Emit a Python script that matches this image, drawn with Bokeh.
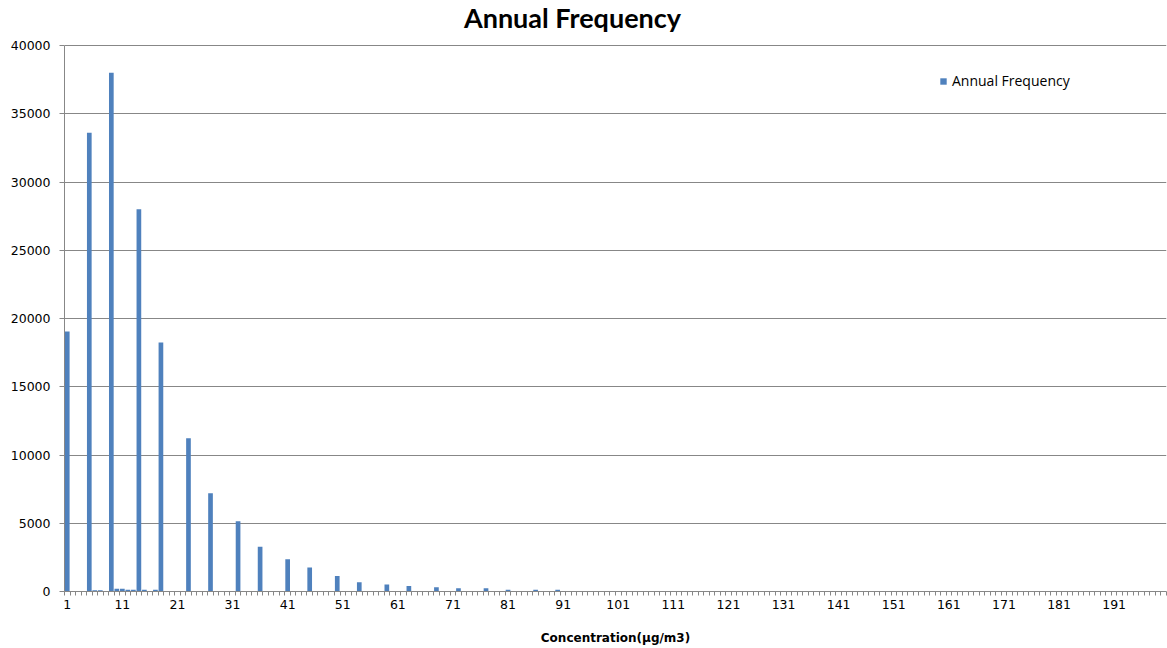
from bokeh.plotting import figure
from bokeh.models import ColumnDataSource, FixedTicker, Range1d, Label, Legend, LegendItem
from bokeh.embed import file_html
from bokeh.resources import INLINE

# Concentration bins (µg/m3) shown on the category axis
categories = list(range(1, 201))

# Bins that received any counts, with their annual counts
bins = [1, 5, 6, 7, 9, 10, 11, 12, 13, 14, 15, 17, 18, 23, 27, 32, 36, 41, 45,
        50, 54, 59, 63, 68, 72, 77, 81, 86, 90]
counts = [19040, 33600, 100, 100, 38000, 200, 200, 120, 120, 28000, 120, 120,
          18240, 11230, 7200, 5150, 3270, 2370, 1760, 1130, 670, 520, 400, 320,
          230, 230, 120, 120, 120]

tick_labels = [str(c) for c in range(1, 201, 10)]
y_ticks = list(range(0, 40001, 5000))

lookup = dict(zip(bins, counts))
frequency = [lookup.get(c, 0) for c in categories]

source = ColumnDataSource(data=dict(x=categories, top=frequency))

GRID = "#878787"
BLUE = "#4F81BD"

# Canvas layout (pixels): the plotting frame runs from the top edge down to
# the x axis; the value axis itself covers 0..40000 over its lower part,
# leaving a band above it for the heading and legend.
W, H = 1167, 648
BOTTOM_BORDER = 57
AXIS_TOP_PX = 45
frame_h = H - BOTTOM_BORDER
y_max = y_ticks[-1]
y_end = y_max * frame_h / (frame_h - AXIS_TOP_PX)

p = figure(width=W, height=H, output_backend="svg", toolbar_location=None,
           x_range=Range1d(0.5, 200.5), y_range=Range1d(0, y_end),
           min_border_left=64, min_border_right=1, min_border_top=0,
           min_border_bottom=BOTTOM_BORDER, outline_line_color=None)

bars = p.vbar(x="x", top="top", width=0.85, source=source,
              fill_color=BLUE, line_color=None)

# chart heading (screen units, measured from the frame's bottom-left)
heading = Label(text="Annual Frequency", x=508, y=frame_h - 17,
                x_units="screen", y_units="screen", text_align="center",
                text_baseline="alphabetic", text_font="Lato",
                text_font_size="27px", text_font_style="bold",
                text_color="#000000")
p.add_layout(heading)

# x axis: labels every 10 bins, tick marks on every bin boundary
xa = p.xaxis[0]
xa.ticker = FixedTicker(ticks=list(range(1, 201, 10)),
                        minor_ticks=[c + 0.5 for c in range(0, 201)])
xa.major_label_overrides = {int(t): t for t in tick_labels}
xa.major_tick_out = 0
xa.major_tick_in = 0
xa.minor_tick_out = 4
xa.minor_tick_in = 0
xa.minor_tick_line_color = GRID
xa.axis_line_color = GRID
xa.major_label_text_font = "DejaVu Sans"
xa.major_label_text_font_size = "12.5px"
xa.major_label_text_color = "#000000"
xa.major_label_standoff = 4
xa.axis_label = "Concentration(µg/m3)"
xa.axis_label_text_font = "DejaVu Sans"
xa.axis_label_text_font_size = "12px"
xa.axis_label_text_font_style = "bold"
xa.axis_label_text_color = "#000000"
xa.axis_label_standoff = 19

ya = p.yaxis[0]
ya.ticker = FixedTicker(ticks=y_ticks)
ya.bounds = (0, y_max)
ya.major_tick_out = 5
ya.major_tick_in = 0
ya.minor_tick_out = 0
ya.minor_tick_in = 0
ya.major_tick_line_color = GRID
ya.axis_line_color = GRID
ya.major_label_text_font = "DejaVu Sans"
ya.major_label_text_font_size = "12.5px"
ya.major_label_text_color = "#000000"
ya.major_label_standoff = 9

p.xgrid.grid_line_color = None
p.ygrid.grid_line_color = GRID
p.ygrid.grid_line_width = 1

legend = Legend(items=[LegendItem(label="Annual Frequency", renderers=[bars])],
                location=(875, 501), padding=0, margin=0, glyph_width=8,
                glyph_height=8, label_standoff=5, label_text_font="Open Sans",
                label_text_font_size="14px", label_text_color="#000000",
                border_line_color=None, background_fill_alpha=0)
p.add_layout(legend)

open("out.html", "w").write(file_html(p, INLINE))
